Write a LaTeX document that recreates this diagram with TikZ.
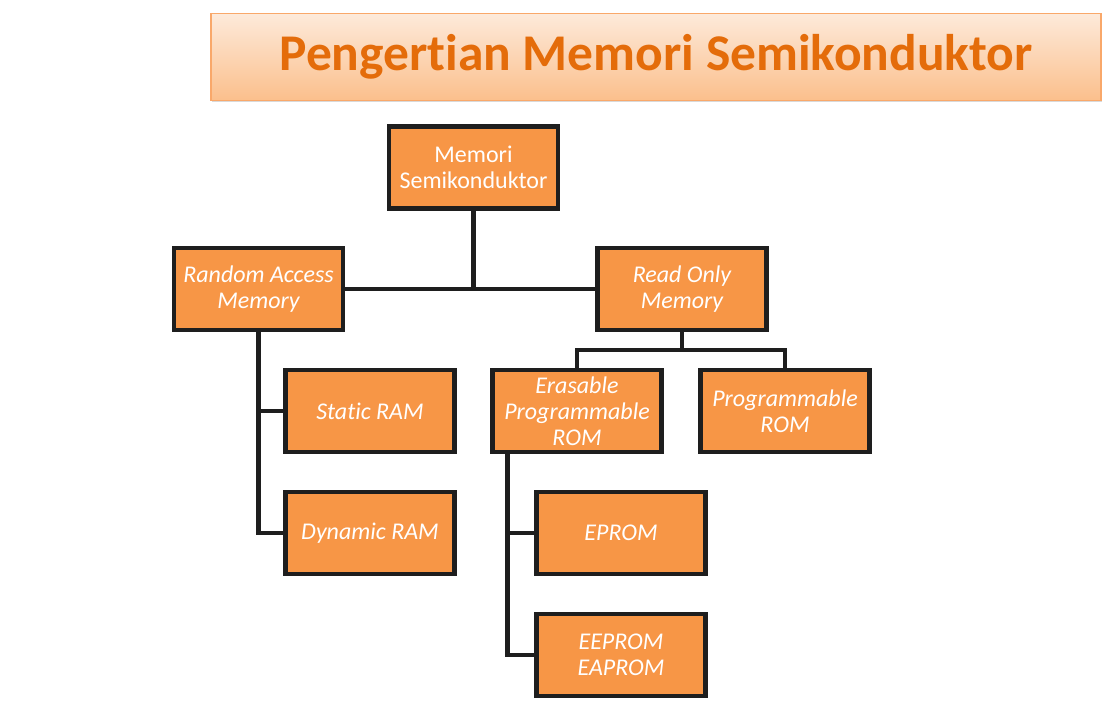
\documentclass[tikz,border=0pt]{standalone}
\usepackage{fontspec}
\setmainfont[Ligatures=NoCommon]{Carlito}
\usetikzlibrary{shadows}
\definecolor{boxfill}{HTML}{F79646}
\definecolor{boxline}{HTML}{1E1E1E}
\definecolor{titletext}{HTML}{E46C0A}
\definecolor{titletop}{HTML}{FDEADA}
\definecolor{titlebot}{HTML}{FBBF8C}
\definecolor{titleline}{HTML}{F9A86A}
\begin{document}
\begin{tikzpicture}[x=1pt,y=-1pt,
  box/.style={draw=boxline, line width=4.5pt, fill=boxfill,
    minimum width=169pt, minimum height=82pt, text=white, align=center,
    font=\fontsize{24}{26}\selectfont\itshape, inner sep=0pt,
    drop shadow={opacity=0.25, shadow xshift=1pt, shadow yshift=-1.5pt}},
  conn/.style={draw=boxline, line width=4.5pt},
  titlebox/.style={draw=titleline, line width=1.5pt, top color=titletop,
    bottom color=titlebot, minimum width=890pt, minimum height=87pt,
    inner sep=0pt, text=titletext, font=\fontsize{51.5}{60}\selectfont\bfseries,
    drop shadow={opacity=0.3, shadow xshift=1pt, shadow yshift=-2pt}}]
\useasboundingbox (0,0) rectangle (1108,708);
\node[titlebox] (title) at (656,57) {Pengertian Memori Semikonduktor};

\node[box, font=\fontsize{24}{26}\selectfont\upshape] (mem) at (473.5,167.5) {Memori\\Semikonduktor};
\node[box] (ram) at (258.5,289) {Random Access\\Memory};
\node[box] (rom) at (682,289) {Read Only\\Memory};
\node[box] (sram) at (370,411) {Static RAM};
\node[box] (dram) at (370,533) {Dynamic RAM};
\node[box] (erom) at (577,411) {Erasable\\Programmable\\ROM};
\node[box] (prom) at (785,411) {Programmable\\ROM};
\node[box] (eprom) at (621,533) {EPROM};
\node[box] (eeprom) at (621,655) {EEPROM\\EAPROM};

\coordinate (rj) at (682,350);
\draw[conn] (mem.south) -- (mem.south |- ram.east);
\draw[conn] (ram.east) -- (rom.west);
\draw[conn] (ram.south) |- (sram.west);
\draw[conn] (ram.south) |- (dram.west);
\draw[conn] (rom.south) -- (rj);
\draw[conn] (erom.north) |- (rj) -| (prom.north);
\draw[conn] ([xshift=17pt]erom.south west) |- (eprom.west);
\draw[conn] ([xshift=17pt]erom.south west) |- (eeprom.west);
\end{tikzpicture}
\end{document}
